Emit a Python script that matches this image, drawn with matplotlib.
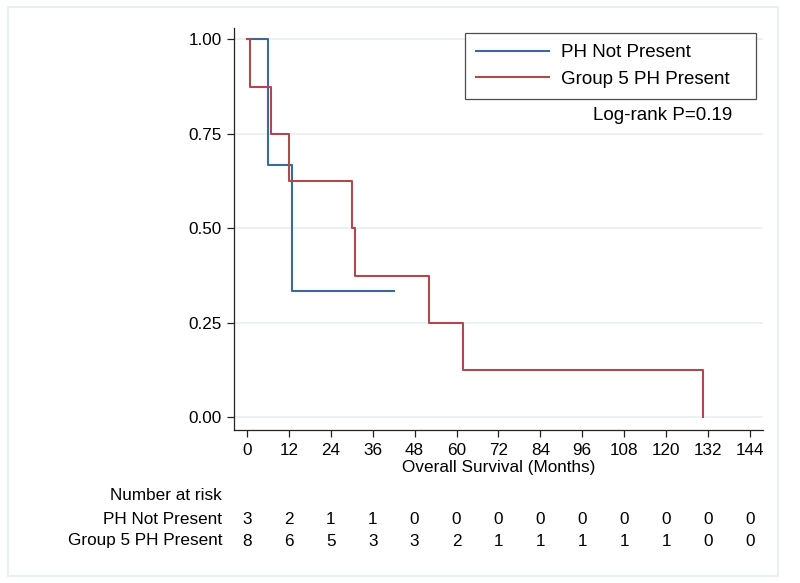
import matplotlib
matplotlib.use("Agg")
import matplotlib.pyplot as plt
import matplotlib.transforms as mtransforms
from matplotlib.patches import Rectangle

plt.rcParams['font.family'] = ['Liberation Sans', 'DejaVu Sans']

# Kaplan-Meier step data (time in months, survival probability)
blue_times = [0, 6, 13, 42]
blue_surv = [1.0, 0.6667, 0.3333, 0.3333]
red_times = [0, 0.86, 7, 12, 30, 31, 52, 62, 130.5]
red_surv = [1.0, 0.875, 0.75, 0.625, 0.5, 0.375, 0.25, 0.125, 0.0]

group_labels = ['PH Not Present', 'Group 5 PH Present']
risk_times = [0, 12, 24, 36, 48, 60, 72, 84, 96, 108, 120, 132, 144]
risk_blue = [3, 2, 1, 1, 0, 0, 0, 0, 0, 0, 0, 0, 0]
risk_red = [8, 6, 5, 3, 3, 2, 1, 1, 1, 1, 1, 0, 0]
y_ticks = [0.0, 0.25, 0.5, 0.75, 1.0]

BLUE = '#3a6a98'
RED = '#ad4a50'
GRID = '#e8f0f2'

fig = plt.figure(figsize=(8, 5.83), dpi=100)
ax = fig.add_axes([0.2925, 0.2624, 0.954 - 0.2925, 0.9525 - 0.2624])

# outer light frame
fig.patches.append(Rectangle((0.01, 0.012), 0.962, 0.976, transform=fig.transFigure,
                             fill=False, edgecolor=GRID, linewidth=1.5))

ax.step(blue_times, blue_surv, where='post', color=BLUE, lw=1.5, label=group_labels[0])
ax.step(red_times, red_surv, where='post', color=RED, lw=1.5, label=group_labels[1])

ax.set_xlim(-3.7, 147.8)
ax.set_ylim(-0.034, 1.031)
ax.set_xticks(risk_times)
ax.set_yticks(y_ticks)
ax.set_yticklabels([f'{v:.2f}' for v in y_ticks])
ax.yaxis.grid(True, color=GRID, lw=1.2)
ax.set_axisbelow(True)
for s in ['top', 'right']:
    ax.spines[s].set_visible(False)
for s in ['left', 'bottom']:
    ax.spines[s].set_linewidth(0.9)
    ax.spines[s].set_color('#222222')
ax.tick_params(direction='out', length=5, width=0.9, labelsize=12.3, color='#222222', pad=4)
ax.set_xlabel('Overall Survival (Months)', fontsize=12.3, labelpad=2)

leg = ax.legend(loc='upper right', bbox_to_anchor=(0.987, 0.987), fontsize=13.5, frameon=True,
                fancybox=False, edgecolor='#222222', handlelength=3.9, borderpad=0.6,
                labelspacing=0.5, handletextpad=0.6, borderaxespad=0)
leg.get_frame().set_linewidth(0.9)
# widen the right margin of the legend box a little
for t in leg.get_texts():
    t.set_text(t.get_text() + '   ')

ax.text(732 / 800, 1 - 115 / 583, 'Log-rank P=0.19', transform=fig.transFigure,
        ha='right', va='center', fontsize=13.5)

# number at risk table
trans = mtransforms.blended_transform_factory(ax.transData, fig.transFigure)
fig.text(222 / 800, 1 - 495 / 583, 'Number at risk', ha='right', va='center', fontsize=12.3)
for yp, lab, vals in [(519, group_labels[0], risk_blue), (541, group_labels[1], risk_red)]:
    fig.text(222 / 800, 1 - yp / 583, lab, ha='right', va='center', fontsize=12.3)
    for t, v in zip(risk_times, vals):
        ax.text(t, 1 - yp / 583, str(v), transform=trans, ha='center', va='center',
                fontsize=12.3, clip_on=False)

fig.savefig('out.png', dpi=100)
